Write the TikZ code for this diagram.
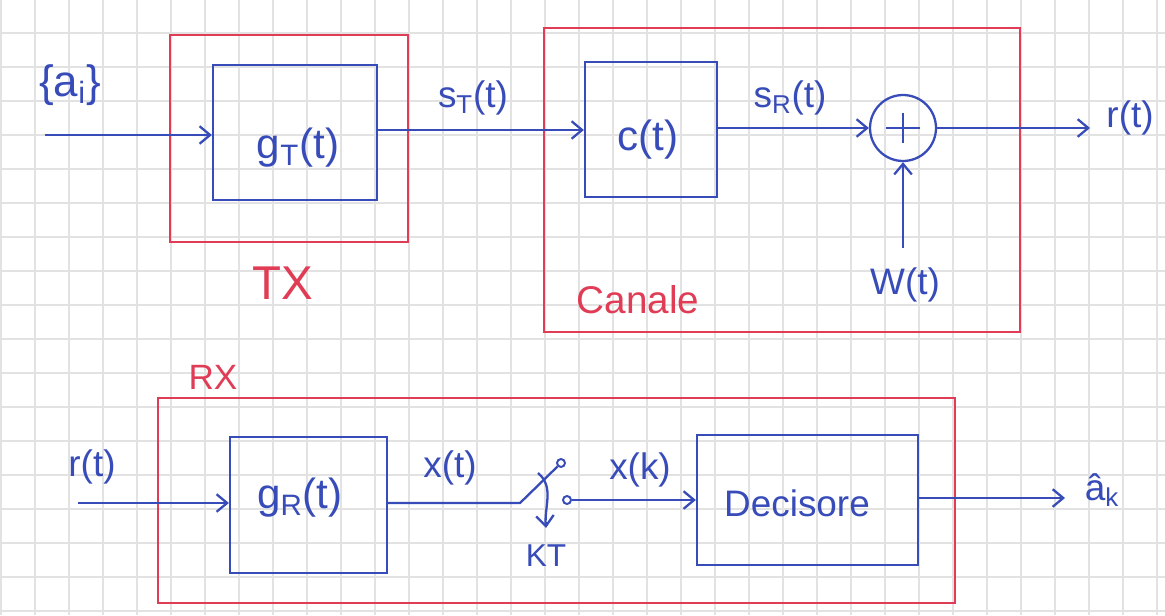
\documentclass[tikz,border=0pt]{standalone}
\usepackage{fontspec}
\setmainfont{Liberation Sans}
\usetikzlibrary{arrows.meta,fit}
\definecolor{pen}{RGB}{55,75,185}
\definecolor{redpen}{RGB}{225,60,85}
\definecolor{gridc}{RGB}{226,226,226}
\begin{document}
\begin{tikzpicture}[x=0.02cm,y=-0.02cm,
 bluebox/.style={draw=pen, line width=1.3pt, inner sep=0pt},
 redbox/.style={draw=redpen, line width=1.2pt, inner sep=0pt},
 sig/.style={draw=pen, line width=1.3pt, -{Straight Barb[length=6pt,width=10pt]}},
 wire/.style={draw=pen, line width=1.3pt},
 lbl/.style={text=pen, font=\fontsize{21}{25}\selectfont, inner sep=0pt},
 biglbl/.style={text=pen, font=\fontsize{24}{28}\selectfont, inner sep=0pt},
 rlbl/.style={text=redpen, font=\fontsize{22}{26}\selectfont, inner sep=0pt},
 gridline/.style={draw=gridc, line width=0.6pt},
 contact/.style={circle, draw=pen, line width=1.1pt, minimum size=0.16cm, inner sep=0pt}]
\useasboundingbox (0,0) rectangle (1165,615);
\fill[white] (0,0) rectangle (1165,615);
% grid paper
\foreach \k in {0,...,34} \draw[gridline] ({1+34*\k},0) -- ({1+34*\k},615);
\foreach \k in {0,...,18} \draw[gridline] (0,{33+34*\k}) -- (1165,{33+34*\k});

% ---------- top row ----------
\node[redbox, fit={(170,35)(408,242)}] (tx) {};
\node[rlbl, font=\fontsize{27}{30}\selectfont] (txl) at (283,283) {TX};
\node[bluebox, fit={(213,65)(377,200)}] (gT) {};
\node[biglbl] (gTl) at (298,148) {g\textsubscript{T}(t)};

\node[redbox, fit={(544,28)(1020,332)}] (ch) {};
\node[rlbl] (chl) at (638,300) {Canale};
\node[bluebox, fit={(585,62)(717,197)}] (c) {};
\node[biglbl] (cl) at (648,140) {c(t)};

\node[circle, draw=pen, line width=1.3pt, minimum size=1.32cm, inner sep=0pt] (sum) at (903,128) {};
\draw[wire] (sum.center) ++(-17,0) -- ++(34,0);
\draw[wire] (sum.center) ++(0,-15) -- ++(0,30);

\coordinate (ain) at (45,135);
\node[lbl, font=\fontsize{25}{28}\selectfont] (ail) at (70,85) {\{a\textsubscript{i}\}};
\draw[sig] (ain) -- (ain -| gT.west);

\draw[sig] (gT.east |- 0,130) -- (c.west |- 0,130);
\node[lbl] (sTl) at (473,98) {s\textsubscript{T}(t)};

\draw[sig] (c.east |- sum) -- (sum.west);
\node[lbl] (sRl) at (790,98) {s\textsubscript{R}(t)};

\coordinate (rout) at (1090,128);
\draw[sig] (sum.east) -- (rout);
\node[lbl] (routl) at (1130,118) {r(t)};

\coordinate (win) at (903,248);
\draw[sig] (win) -- (sum.south);
\node[lbl] (wl) at (905,285) {W(t)};

% ---------- bottom row ----------
\node[redbox, fit={(158,398)(955,603)}] (rx) {};
\node[rlbl, font=\fontsize{20}{24}\selectfont] (rxl) at (213,377) {RX};

\node[bluebox, fit={(230,437)(387,573)}] (gR) {};
\node[biglbl] (gRl) at (300,498) {g\textsubscript{R}(t)};

\node[bluebox, fit={(697,435)(918,565)}] (dec) {};
\node[lbl] (decl) at (797,503) {Decisore};

\coordinate (rin) at (78,503);
\node[lbl] (rinl) at (92,467) {r(t)};
\draw[sig] (rin) -- (rin -| gR.west);

\coordinate (sw) at (520,503);
\node[contact] (ct1) at (561,463) {};
\node[contact] (ct2) at (567,500) {};
\draw[wire] (gR.east |- sw) -- (sw) -- (ct1.south west);
\node[lbl] (xtl) at (450,468) {x(t)};

\draw[sig] (ct2.east) -- (ct2.east -| dec.west);
\node[lbl] (xkl) at (640,470) {x(k)};

\coordinate (kts) at (538,473);
\coordinate (kte) at (546,528);
\draw[sig] (kts) to[out=-40,in=95] (kte);
\node[lbl, font=\fontsize{18}{22}\selectfont] (ktl) at (546,556) {KT};

\coordinate (aout) at (1065,498);
\draw[sig] (dec.east |- aout) -- (aout);
\node[lbl] (akl) at (1102,490) {â\textsubscript{k}};
\end{tikzpicture}
\end{document}
